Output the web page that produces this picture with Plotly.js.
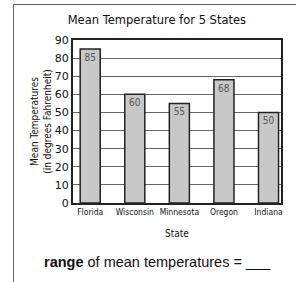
<!DOCTYPE html>
<html>
<head>
<meta charset="utf-8">
<script src="https://cdn.plot.ly/plotly-3.0.1.min.js"></script>
<style>
html,body{margin:0;padding:0;background:#fff;}
#wrap{position:relative;width:296px;height:282px;overflow:hidden;}
#frame{position:absolute;left:13px;top:4px;width:300px;height:300px;border-left:1.5px solid #666;border-top:1.5px solid #666;pointer-events:none;}
#chart{position:absolute;left:0;top:0;width:296px;height:282px;}
</style>
</head>
<body>
<div id="wrap">
<div id="chart"></div>
<div id="frame"></div>
</div>
<script>
const states = ['Florida', 'Wisconsin', 'Minnesota', 'Oregon', 'Indiana'];
const temps = [85, 60, 55, 68, 50];
const yTicks = [0, 10, 20, 30, 40, 50, 60, 70, 80, 90];

const trace = {
  type: 'bar',
  x: states,
  y: temps,
  text: temps.map(String),
  textposition: 'inside',
  insidetextanchor: 'end',
  textangle: 0,
  textfont: {family: 'DejaVu Sans Condensed, DejaVu Sans', size: 10, color: '#555'},
  marker: {color: '#c8c8c8', line: {color: '#222', width: 1.5}},
  hoverinfo: 'none',
  cliponaxis: false
};

const layout = {
  width: 296,
  height: 282,
  margin: {l: 73, r: 15, t: 40, b: 79},
  paper_bgcolor: 'rgba(0,0,0,0)',
  plot_bgcolor: '#fff',
  showlegend: false,
  bargap: 0.55,
  title: {
    text: 'Mean Temperature for 5 States',
    font: {family: 'DejaVu Sans', size: 11.5, color: '#111'},
    x: 0.53, xanchor: 'center', y: 0.93, yanchor: 'middle', yref: 'container'
  },
  xaxis: {
    type: 'category',
    range: [-0.386, 4.28],
    showgrid: false,
    ticks: '',
    tickangle: 0,
    tickfont: {family: 'DejaVu Sans Condensed, DejaVu Sans', size: 8.5, color: '#111'},
    showline: true, linecolor: '#222', linewidth: 2, mirror: true,
    title: {text: 'State', font: {family: 'DejaVu Sans Condensed, DejaVu Sans', size: 10, color: '#111'}, standoff: 14}
  },
  yaxis: {
    range: [0, 90],
    tickvals: yTicks,
    ticks: '',
    tickfont: {family: 'DejaVu Sans', size: 11, color: '#111'},
    showgrid: true, gridcolor: '#666', gridwidth: 1,
    zeroline: false,
    showline: true, linecolor: '#222', linewidth: 2, mirror: true,
    title: {text: 'Mean Temperatures<br>(in degrees Fahrenheit)', font: {family: 'DejaVu Sans Condensed, DejaVu Sans', size: 10, color: '#111'}, standoff: 1}
  },
  annotations: [{
    text: '<b>range</b> of mean temperatures = ___',
    xref: 'paper', yref: 'paper',
    x: 0.404, y: -0.362, xanchor: 'center', yanchor: 'middle',
    showarrow: false,
    font: {family: 'Liberation Sans, Arial', size: 14.5, color: '#111'}
  }]
};

Plotly.newPlot('chart', [trace], layout, {staticPlot: true, displayModeBar: false});
</script>
</body>
</html>
